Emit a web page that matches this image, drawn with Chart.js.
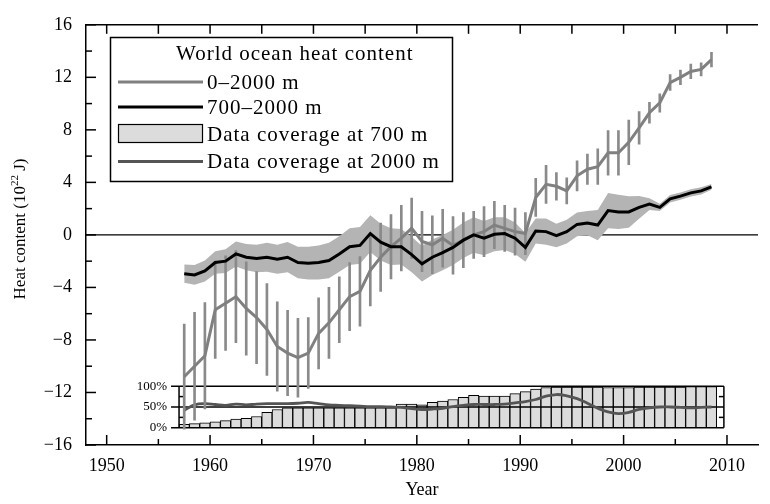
<!DOCTYPE html>
<html>
<head>
<meta charset="utf-8">
<script src="https://cdn.jsdelivr.net/npm/chart.js@4.4.1/dist/chart.umd.min.js"></script>
<style>
html, body { margin: 0; padding: 0; background: #fff; }
</style>
</head>
<body>
<canvas id="heatChart" width="770" height="504"></canvas>
<script>
/* DATA */

const years = [1957,1958,1959,1960,1961,1962,1963,1964,1965,1966,
    1967,1968,1969,1970,1971,1972,1973,1974,1975,1976,
    1977,1978,1979,1980,1981,1982,1983,1984,1985,1986,
    1987,1988,1989,1990,1991,1992,1993,1994,1995,1996,
    1997,1998,1999,2000,2001,2002,2003,2004,2005,2006,
    2007,2008];

// 0-2000 m heat content and its error (half length of the vertical bar)
const heat0to2000 = [-10.8,-10.0,-9.2,-5.7,-5.2,-4.7,-5.6,-6.3,-7.2,-8.5,
    -9.0,-9.35,-9.0,-7.5,-6.7,-5.7,-4.7,-4.3,-2.7,-1.7,
    -0.9,-0.25,0.5,-0.5,-0.75,-0.25,-0.8,-0.4,0.0,0.25,
    0.75,0.5,0.25,0.1,2.85,3.85,3.7,3.35,4.5,5.0,
    5.2,6.25,6.25,7.05,8.15,9.3,10.05,11.6,12.0,12.45,
    12.6,13.35];
const err0to2000 = [4.0,4.1,4.05,3.7,3.6,3.5,3.55,3.5,3.5,3.4,
    3.25,3.0,2.7,2.7,2.7,2.5,2.6,2.65,2.7,2.6,
    2.45,2.5,2.3,2.3,2.2,2.2,2.2,2.1,1.8,1.9,
    1.8,1.75,1.8,1.6,1.45,1.45,1.05,1.0,1.15,1.15,
    1.35,1.7,1.7,1.7,1.25,0.8,0.7,0.6,0.55,0.55,
    0.5,0.55];

// 700-2000 m heat content and half width of the shaded band
const heat700to2000 = [-2.95,-3.05,-2.75,-2.1,-2.0,-1.45,-1.7,-1.8,-1.7,-1.85,
    -1.7,-2.1,-2.15,-2.1,-1.95,-1.45,-0.9,-0.8,0.1,-0.55,
    -0.9,-0.9,-1.5,-2.2,-1.7,-1.35,-0.95,-0.4,0.0,-0.25,
    0.05,0.1,-0.25,-0.95,0.3,0.25,-0.05,0.25,0.8,0.9,
    0.75,1.85,1.75,1.75,2.1,2.35,2.1,2.75,2.95,3.2,
    3.35,3.65];
const band700to2000 = [0.7,0.75,0.8,0.85,0.9,0.95,1.0,1.05,1.1,1.1,
    1.15,1.2,1.25,1.3,1.35,1.35,1.4,1.4,1.4,1.4,
    1.4,1.35,1.35,1.35,1.35,1.35,1.35,1.35,1.35,1.3,
    1.3,1.25,1.2,1.1,0.95,1.0,0.9,0.9,0.9,0.92,
    1.15,1.35,1.3,1.2,0.87,0.45,0.28,0.28,0.28,0.28,
    0.27,0.22];

// data coverage (%)
const coverage700 = [8,10,12,14,17,21,23,27,37,44,
    48,48,48,48,48,48,48,48,48,48,
    48,57,57,55,61,64,68,73,78,76,
    76,76,82,87,93,97,98,98,98,98,
    98,97,97,97,98,98,98,98,98,99,
    99,99];
const coverage2000 = [42,55,58,56,54,57,55,57,58,58,
    58,59,61,58,55,54,53,52,51,51,
    50,49,46,44,45,47,51,54,56,56,
    56,57,60,63,68,76,80,77,70,59,
    47,38,34,37,44,48,50,50,49,48,
    49,50];

const yearTicks = [1950,1960,1970,1980,1990,2000,2010];
const heatTicks = [-16,-12,-8,-4,0,4,8,12,16];
const coverageTicks = [0,50,100];

/* CHART */

const FONT = '"Liberation Serif", "Times New Roman", serif';
const insetStart = 1957;
const insetEnd = 2009.7;

const pts = (vals) => years.map((yr, i) => ({x: yr + 0.5, y: vals[i]}));

function line(ctx, x1, y1, x2, y2){
    ctx.beginPath();
    ctx.moveTo(x1, y1);
    ctx.lineTo(x2, y2);
    ctx.stroke();
}

const framePlugin = {
    id: "framePlugin",
    beforeDatasetsDraw(chart){
        const {ctx, chartArea: a, scales} = chart;
        const y0 = scales.y.getPixelForValue(0);
        ctx.save();
        ctx.strokeStyle = "#000";
        ctx.lineWidth = 1.3;
        line(ctx, a.left, y0, a.right, y0);
        ctx.restore();
    },
    afterDatasetDraw(chart, args){
        if(args.index !== 2) return;
        // inset frame for the coverage bars
        const {ctx, scales} = chart;
        const x = scales.x, yc = scales.yc;
        const xl = x.getPixelForValue(insetStart);
        const xr = x.getPixelForValue(insetEnd);
        const top = yc.getPixelForValue(100), bot = yc.getPixelForValue(0);
        ctx.save();
        ctx.strokeStyle = "#000";
        ctx.lineWidth = 1.5;
        coverageTicks.forEach(v => {
            const py = yc.getPixelForValue(v);
            line(ctx, xl - 8, py, xr, py);
        });
        line(ctx, xl, top, xl, bot);
        line(ctx, xr, top, xr, bot);
        [25, 75].forEach(v => {
            const py = yc.getPixelForValue(v);
            line(ctx, xl, py, xl + 5, py);
            line(ctx, xr, py, xr - 5, py);
        });
        ctx.fillStyle = "#000";
        ctx.font = "13px " + FONT;
        ctx.textAlign = "right";
        ctx.textBaseline = "middle";
        coverageTicks.forEach(v => {
            ctx.fillText(v + "%", xl - 12, yc.getPixelForValue(v));
        });
        ctx.restore();
    },
    afterDraw(chart){
        const {ctx, chartArea: a, scales} = chart;
        const x = scales.x, y = scales.y;
        ctx.save();
        ctx.strokeStyle = "#000";
        ctx.fillStyle = "#000";
        ctx.lineWidth = 1.5;

        // top border
        line(ctx, a.left, a.top, a.right, a.top);

        // tick marks pointing inward
        for(let yr = 1950; yr <= 2010; yr += 5){
            const px = x.getPixelForValue(yr);
            const len = yr % 10 === 0 ? 10 : 6;
            line(ctx, px, a.bottom, px, a.bottom - len);
            line(ctx, px, a.top, px, a.top + 9);
        }
        for(let v = -16; v <= 16; v += 2){
            const py = y.getPixelForValue(v);
            const len = v % 4 === 0 ? 10 : 6;
            line(ctx, a.left, py, a.left + len, py);
        }

        // axis titles
        ctx.font = "18px " + FONT;
        ctx.textAlign = "center";
        ctx.textBaseline = "middle";
        ctx.fillText("Year", (a.left + a.right) / 2, 490);

        ctx.save();
        ctx.translate(21, 229);
        ctx.rotate(-Math.PI / 2);
        const parts = [["Heat content (10", 17, 0], ["22", 11, -6], [" J)", 17, 0]];
        let total = 0;
        parts.forEach(p => { ctx.font = p[1] + "px " + FONT; total += ctx.measureText(p[0]).width; });
        let cx = -total / 2;
        ctx.textAlign = "left";
        parts.forEach(p => {
            ctx.font = p[1] + "px " + FONT;
            ctx.fillText(p[0], cx, p[2]);
            cx += ctx.measureText(p[0]).width;
        });
        ctx.restore();

        // legend
        ctx.lineWidth = 1.5;
        ctx.strokeRect(110.5, 37.5, 342, 144);
        ctx.font = "21px " + FONT;
        ctx.letterSpacing = "1px";
        ctx.textAlign = "left";
        ctx.textBaseline = "middle";
        ctx.fillText("World ocean heat content", 176, 54);

        const rows = [
            {label: "0\u20132000 m", y: 82, color: "#808080"},
            {label: "700\u20132000 m", y: 107, color: "#000"},
            {label: "Data coverage at 700 m", y: 134, box: true},
            {label: "Data coverage at 2000 m", y: 161.5, color: "#555"}
        ];
        rows.forEach(r => {
            if(r.box){
                ctx.fillStyle = "#dcdcdc";
                ctx.fillRect(118.5, 124.5, 84, 18);
                ctx.lineWidth = 1.2;
                ctx.strokeStyle = "#000";
                ctx.strokeRect(118.5, 124.5, 84, 18);
            }else{
                ctx.strokeStyle = r.color;
                ctx.lineWidth = 3;
                line(ctx, 118, r.y, 203, r.y);
            }
            ctx.fillStyle = "#000";
            ctx.fillText(r.label, 207, r.y + 1);
        });
        ctx.restore();
    }
};

const ctx = document.getElementById("heatChart");

new Chart(ctx, {
    type: "line",
    data: {
        datasets: [
            {
                label: "band top",
                data: years.map((yr, i) => ({x: yr + 0.5, y: heat700to2000[i] + band700to2000[i]})),
                borderWidth: 0, pointRadius: 0, fill: false, order: 10
            },
            {
                label: "band bottom",
                data: years.map((yr, i) => ({x: yr + 0.5, y: heat700to2000[i] - band700to2000[i]})),
                borderWidth: 0, pointRadius: 0, fill: "-1",
                backgroundColor: "#b4b4b4", order: 10
            },
            {
                type: "bar",
                label: "Data coverage at 700 m",
                data: pts(coverage700),
                yAxisID: "yc",
                backgroundColor: "#dcdcdc", borderColor: "#000", borderWidth: 1,
                barPercentage: 1, categoryPercentage: 1, grouped: false, order: 9
            },
            {
                label: "Data coverage at 2000 m",
                data: pts(coverage2000),
                yAxisID: "yc",
                borderColor: "#555", borderWidth: 2.8, tension: 0.4,
                pointRadius: 0, fill: false, order: 8
            },
            {
                type: "bar",
                label: "error",
                data: years.map((yr, i) => ({x: yr + 0.5, y: [heat0to2000[i] - err0to2000[i], heat0to2000[i] + err0to2000[i]]})),
                backgroundColor: "#8a8a8a", barThickness: 2, grouped: false, order: 7
            },
            {
                label: "0\u20132000 m",
                data: pts(heat0to2000),
                borderColor: "#808080", borderWidth: 3, pointRadius: 0,
                fill: false, order: 6
            },
            {
                label: "700\u20132000 m",
                data: pts(heat700to2000),
                borderColor: "#000", borderWidth: 3, pointRadius: 0,
                fill: false, order: 5
            }
        ]
    },
    options: {
        responsive: false,
        animation: false,
        events: [],
        layout: { padding: { top: 14, right: 12, left: 0, bottom: 0 } },
        plugins: {
            legend: { display: false },
            tooltip: { enabled: false }
        },
        scales: {
            x: {
                type: "linear",
                min: 1948, max: 2013,
                offset: false,
                grid: { display: false, drawTicks: false },
                border: { display: true, color: "#000", width: 1.5 },
                afterBuildTicks: (s) => { s.ticks = yearTicks.map(v => ({value: v})); },
                afterFit: (s) => { s.height = 59; },
                ticks: {
                    font: { family: FONT, size: 18 }, color: "#000",
                    padding: 10, maxRotation: 0, autoSkip: false,
                    callback: (v) => String(v)
                }
            },
            y: {
                type: "linear",
                position: "left",
                min: -16, max: 16,
                grid: { display: false, drawTicks: false },
                border: { display: true, color: "#000", width: 1.5 },
                afterBuildTicks: (s) => { s.ticks = heatTicks.map(v => ({value: v})); },
                afterFit: (s) => { s.width = 86; },
                ticks: {
                    font: { family: FONT, size: 18 }, color: "#000",
                    padding: 14,
                    callback: (v) => String(v).replace("-", "\u2212")
                }
            },
            yc: {
                type: "linear",
                display: false,
                min: -41.5, max: 970
            }
        }
    },
    plugins: [framePlugin]
});
</script>
</body>
</html>
